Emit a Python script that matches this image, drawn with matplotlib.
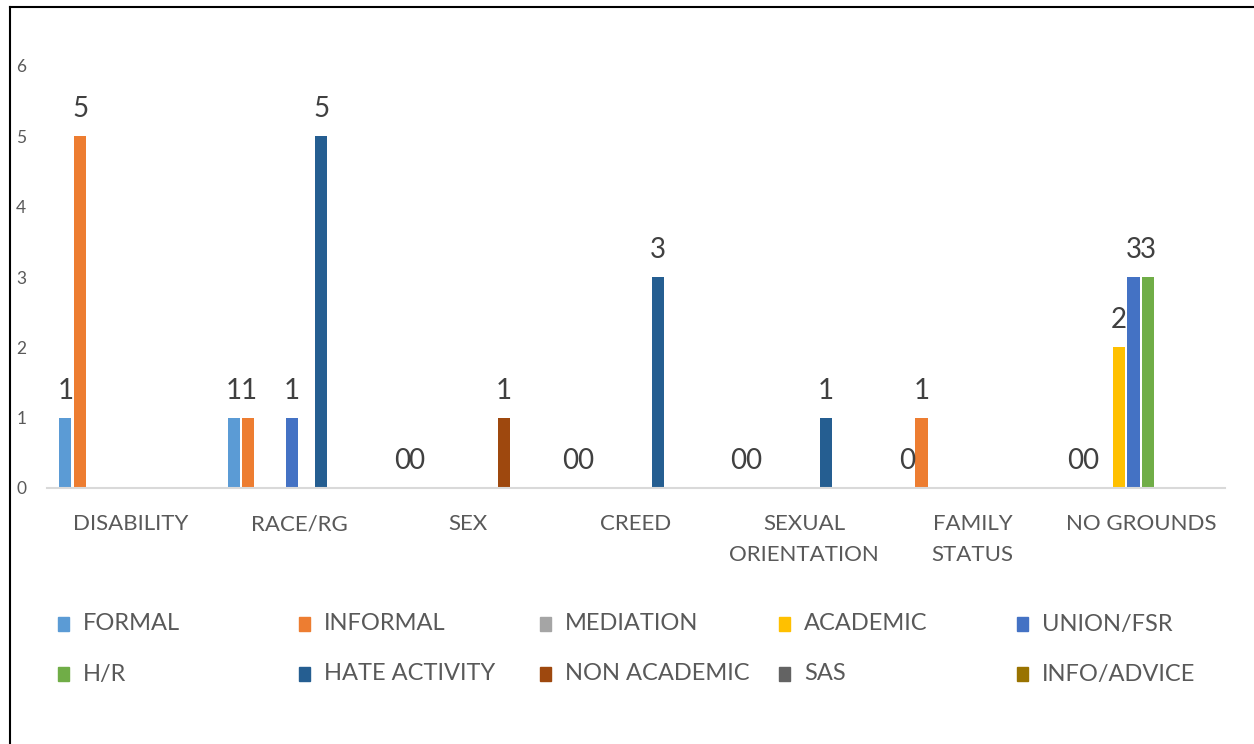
import numpy as np
import matplotlib
matplotlib.use("Agg")
import matplotlib.pyplot as plt
from matplotlib.patches import Rectangle
from matplotlib.lines import Line2D

plt.rcParams['font.family'] = ['Lato', 'DejaVu Sans']

# categories (grounds) and series (complaint types); None = blank cell
categories = ["DISABILITY", "RACE/RG", "SEX", "CREED", "SEXUAL\nORIENTATION", "FAMILY\nSTATUS", "NO GROUNDS"]
series_names = ["FORMAL", "INFORMAL", "MEDIATION", "ACADEMIC", "UNION/FSR",
                "H/R", "HATE ACTIVITY", "NON ACADEMIC", "SAS", "INFO/ADVICE"]
series_colors = ["#5B9BD5", "#ED7D31", "#A5A5A5", "#FFC000", "#4472C4",
                 "#70AD47", "#255E91", "#9E480E", "#636363", "#997300"]

formal = [1, 1, 0, 0, 0, 0, 0]
informal = [5, 1, 0, 0, 0, 1, 0]
mediation = [None] * 7
academic = [None, None, None, None, None, None, 2]
union_fsr = [None, 1, None, None, None, None, 3]
h_r = [None, None, None, None, None, None, 3]
hate_activity = [None, 5, None, 3, 1, None, None]
non_academic = [None, None, 1, None, None, None, None]
sas = [None] * 7
info_advice = [None] * 7

all_series = [formal, informal, mediation, academic, union_fsr,
              h_r, hate_activity, non_academic, sas, info_advice]

fig = plt.figure(figsize=(12.54, 7.44), dpi=100)
ax = fig.add_axes([47/1254, 1-488/744, (1225-47)/1254, (488-66)/744])

x = np.arange(len(categories))
step = 0.0868
width = 0.072
for i, (vals, name, col) in enumerate(zip(all_series, series_names, series_colors)):
    v = np.array([np.nan if a is None else a for a in vals], dtype=float)
    pos = x + (i - 4.5) * step
    bars = ax.bar(pos, np.nan_to_num(v), width, color=col, label=name, zorder=2)
    for xp, val in zip(pos, v):
        if np.isnan(val):
            continue
        ax.annotate(f"{int(val)}", (xp, val), xytext=(0, 10), textcoords="offset points",
                    ha="center", va="bottom", fontsize=20, color="#404040", clip_on=False)

ax.set_xlim(-0.5, len(categories) - 0.5)
ax.set_ylim(0, 6)
ax.set_yticks(range(7))
ax.set_xticks(x)
ax.set_xticklabels(categories, fontsize=16, color="#595959", linespacing=1.65)
ax.tick_params(axis="x", length=0, pad=19)
ax.tick_params(axis="y", length=0, pad=15, labelsize=12.5, labelcolor="#595959")
for s in ["top", "right", "left"]:
    ax.spines[s].set_visible(False)
ax.spines["bottom"].set_color("#D9D9D9")
ax.spines["bottom"].set_linewidth(1.5)

# legend laid out in equal columns like the source
col_x = [58, 299, 540, 779, 1017]
row_y = [624, 674]
for i, (name, col) in enumerate(zip(series_names, series_colors)):
    cx = col_x[i % 5]
    cy = row_y[i // 5]
    fig.patches.append(Rectangle((cx/1254, 1-(cy+7)/744), 11/1254, 14/744,
                                 transform=fig.transFigure, color=col))
    fig.text((cx+25)/1254, 1-cy/744, name, fontsize=17, color="#595959",
             ha="left", va="center")

# outer frame (top and left edges visible)
fig.lines.append(Line2D([10/1254, 1], [1-7/744, 1-7/744], transform=fig.transFigure,
                        color="black", lw=1.5))
fig.lines.append(Line2D([10/1254, 10/1254], [0, 1-7/744], transform=fig.transFigure,
                        color="black", lw=1.5))

fig.savefig("out.png", dpi=100)
